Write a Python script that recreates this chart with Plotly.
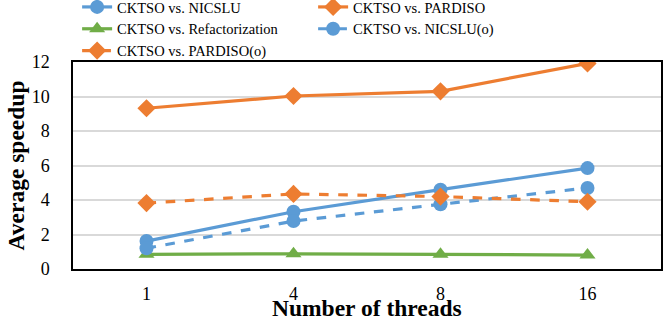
import plotly.graph_objects as go

threads = ["1", "4", "8", "16"]

nicslu = [1.62, 3.32, 4.6, 5.85]
pardiso = [9.32, 10.03, 10.3, 11.92]
refact = [0.85, 0.88, 0.85, 0.81]
nicslu_o = [1.2, 2.78, 3.75, 4.7]
pardiso_o = [3.82, 4.35, 4.2, 3.9]

BLUE = "#5B9BD5"
ORANGE = "#ED7D31"
GREEN = "#70AD47"
FONT = "'Liberation Serif', 'Times New Roman', serif"

fig = go.Figure()


def add_line(y, name, color, symbol, dash="solid", size=13):
    fig.add_trace(go.Scatter(
        x=threads, y=y,
        mode="lines+markers",
        name=name,
        line=dict(color=color, width=3.2, dash=dash),
        marker=dict(color=color, symbol=symbol, size=size),
    ))


add_line(nicslu, "CKTSO vs. NICSLU", BLUE, "circle", size=14)
add_line(pardiso, "CKTSO vs. PARDISO", ORANGE, "diamond", size=14)
add_line(refact, "CKTSO vs. Refactorization", GREEN, "triangle-up", size=14)
add_line(nicslu_o, "CKTSO vs. NICSLU(o)", BLUE, "circle", dash="dash", size=14)
add_line(pardiso_o, "CKTSO vs. PARDISO(o)", ORANGE, "diamond", dash="dash", size=14)

fig.update_layout(
    width=665, height=322,
    margin=dict(l=73, r=4, t=62, b=53, autoexpand=False),
    plot_bgcolor="white",
    paper_bgcolor="white",
    font=dict(family=FONT, color="black", size=18),
    showlegend=True,
    legend=dict(
        orientation="h",
        entrywidth=191,
        x=0.007, xanchor="left",
        y=1.343, yanchor="top",
        font=dict(size=14.5, family=FONT),
        tracegroupgap=0,
        bgcolor="rgba(0,0,0,0)",
    ),
    annotations=[dict(
        text="<b>Number of threads</b>",
        xref="paper", yref="paper",
        x=0.5, y=-0.19, xanchor="center", yanchor="middle",
        showarrow=False,
        font=dict(size=23.5, family=FONT),
    )],
)

fig.update_xaxes(
    type="category",
    range=[-0.5, 3.5],
    showline=True, linecolor="black", linewidth=1.5, mirror=True,
    showgrid=False,
    ticks="",
    ticklabelstandoff=8,
    tickfont=dict(size=18, family=FONT),
)
fig.update_yaxes(
    range=[0, 12],
    dtick=2,
    showline=True, linecolor="black", linewidth=1.5, mirror=True,
    showgrid=True, gridcolor="#D9D9D9", gridwidth=1.5,
    zeroline=False,
    ticks="",
    ticklabelstandoff=18,
    tickfont=dict(size=18, family=FONT),
    title=dict(text="<b>Average speedup</b>", font=dict(size=23.5, family=FONT), standoff=0),
)

# drop the default 8px body margin so the figure sits at the window's corner
fig.write_html(
    "out.html",
    config={"displayModeBar": False},
    post_script="document.body.style.margin='0';",
)
